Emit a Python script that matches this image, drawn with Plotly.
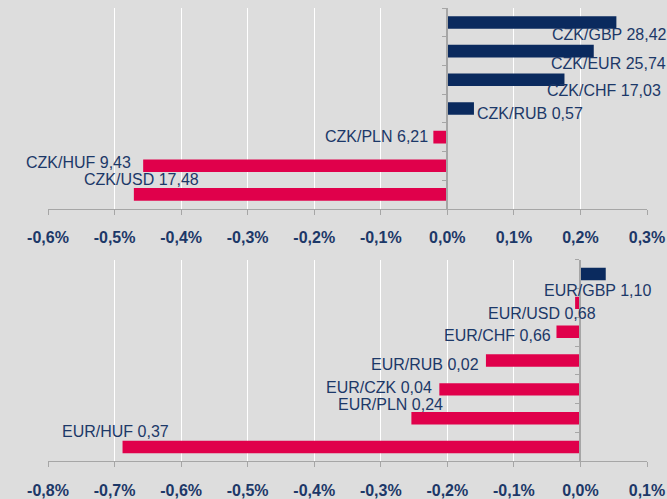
import plotly.graph_objects as go

# ---------------- data ----------------
top_pairs = ["CZK/GBP", "CZK/EUR", "CZK/CHF", "CZK/RUB", "CZK/PLN", "CZK/HUF", "CZK/USD"]
top_changes = [0.254, 0.220, 0.176, 0.040, -0.021, -0.457, -0.471]   # % change
top_rates = ["28,42", "25,74", "17,03", "0,57", "6,21", "9,43", "17,48"]

bot_pairs = ["EUR/GBP", "EUR/USD", "EUR/CHF", "EUR/RUB", "EUR/CZK", "EUR/PLN", "EUR/HUF"]
bot_changes = [0.038, -0.008, -0.036, -0.142, -0.212, -0.254, -0.688]
bot_rates = ["1,10", "0,68", "0,66", "0,02", "0,04", "0,24", "0,37"]

top_tickvals = [-0.6, -0.5, -0.4, -0.3, -0.2, -0.1, 0.0, 0.1, 0.2, 0.3]
top_ticktext = ["-0,6%", "-0,5%", "-0,4%", "-0,3%", "-0,2%", "-0,1%", "0,0%", "0,1%", "0,2%", "0,3%"]
bot_tickvals = [-0.8, -0.7, -0.6, -0.5, -0.4, -0.3, -0.2, -0.1, 0.0, 0.1]
bot_ticktext = ["-0,8%", "-0,7%", "-0,6%", "-0,5%", "-0,4%", "-0,3%", "-0,2%", "-0,1%", "0,0%", "0,1%"]

# ---------------- style ----------------
NAVY = "#0a2a5e"
RED = "#e0004b"
TEXT = "#1c3868"
BG = "#dddddd"
AXIS = "#a6a6a6"
FONT = "Liberation Sans, Arial, sans-serif"

# label placement styles: (xanchor, xshift px, yshift px) relative to bar end
top_label_style = [("center", -7, -12), ("center", 15, -12), ("center", 40, -11),
                   ("left", 1, -5), ("right", -3, 1), ("right", -10, 3), ("center", 8, 15)]
bot_label_style = [("center", -8, -16), ("center", -33, -11), ("right", -3, -3.5),
                   ("right", -5, -3.5), ("right", -5, 2), ("center", -21, 14), ("center", -7, 16)]

W, H = 667, 499
ML, MR = 48, 20
top_range = [-0.6, 0.3]
bot_range = [-0.8, 0.1]
top_dom = [1 - 211.7 / H, 1 - 8.3 / H]
bot_dom = [1 - 468.0 / H, 1 - 263.3 / H]


def colors(vals):
    return [NAVY if v >= 0 else RED for v in vals]


fig = go.Figure()
fig.add_trace(go.Bar(x=top_changes, y=top_pairs, orientation="h",
                     marker=dict(color=colors(top_changes), line=dict(width=0)),
                     width=0.44, xaxis="x", yaxis="y", hoverinfo="skip"))
fig.add_trace(go.Bar(x=bot_changes, y=bot_pairs, orientation="h",
                     marker=dict(color=colors(bot_changes), line=dict(width=0)),
                     width=0.43, xaxis="x2", yaxis="y2", hoverinfo="skip"))

annotations = []
for pairs, vals, rates, styles, xr, yr in [
    (top_pairs, top_changes, top_rates, top_label_style, "x", "y"),
    (bot_pairs, bot_changes, bot_rates, bot_label_style, "x2", "y2"),
]:
    for p, v, r, (xa, xs, ys) in zip(pairs, vals, rates, styles):
        annotations.append(dict(
            x=v, y=p, xref=xr, yref=yr, text=f"{p} {r}", showarrow=False,
            xanchor=xa, yanchor="middle", xshift=xs, yshift=ys,
            font=dict(family=FONT, size=16, color=TEXT)))


def xaxis(rng, tv, tt, dom_anchor):
    return dict(range=rng, domain=[0, 1], anchor=dom_anchor, tickvals=tv, ticktext=tt,
                showgrid=True, gridcolor="white", gridwidth=1, zeroline=False,
                showline=True, linecolor=AXIS, linewidth=1,
                ticks="outside", ticklen=5, tickcolor=AXIS, tickwidth=1,
                ticklabelstandoff=9, fixedrange=True,
                tickfont=dict(family=FONT, size=16, color=TEXT, weight="bold"))


def yaxis(rng, dom, n):
    pos = (0 - rng[0]) / (rng[1] - rng[0])
    return dict(domain=dom, anchor="free", position=pos,
                range=[n - 0.5, -0.5], autorange=False, type="category",
                showgrid=False, zeroline=False, showticklabels=False,
                showline=True, linecolor=AXIS, linewidth=2,
                ticks="outside", ticklen=4, tickcolor=AXIS, tickwidth=1,
                tickson="boundaries", fixedrange=True)


fig.update_layout(
    width=W, height=H,
    margin=dict(l=ML, r=MR, t=0, b=0),
    paper_bgcolor=BG, plot_bgcolor=BG,
    showlegend=False, hovermode=False,
    barmode="overlay",
    xaxis=xaxis(top_range, top_tickvals, top_ticktext, "y"),
    yaxis=yaxis(top_range, top_dom, len(top_pairs)),
    xaxis2=xaxis(bot_range, bot_tickvals, bot_ticktext, "y2"),
    yaxis2=yaxis(bot_range, bot_dom, len(bot_pairs)),
    annotations=annotations,
)

fig.write_html("out.html", config={"displayModeBar": False},
               post_script="document.body.style.margin='0';document.body.style.background='#dddddd';")
